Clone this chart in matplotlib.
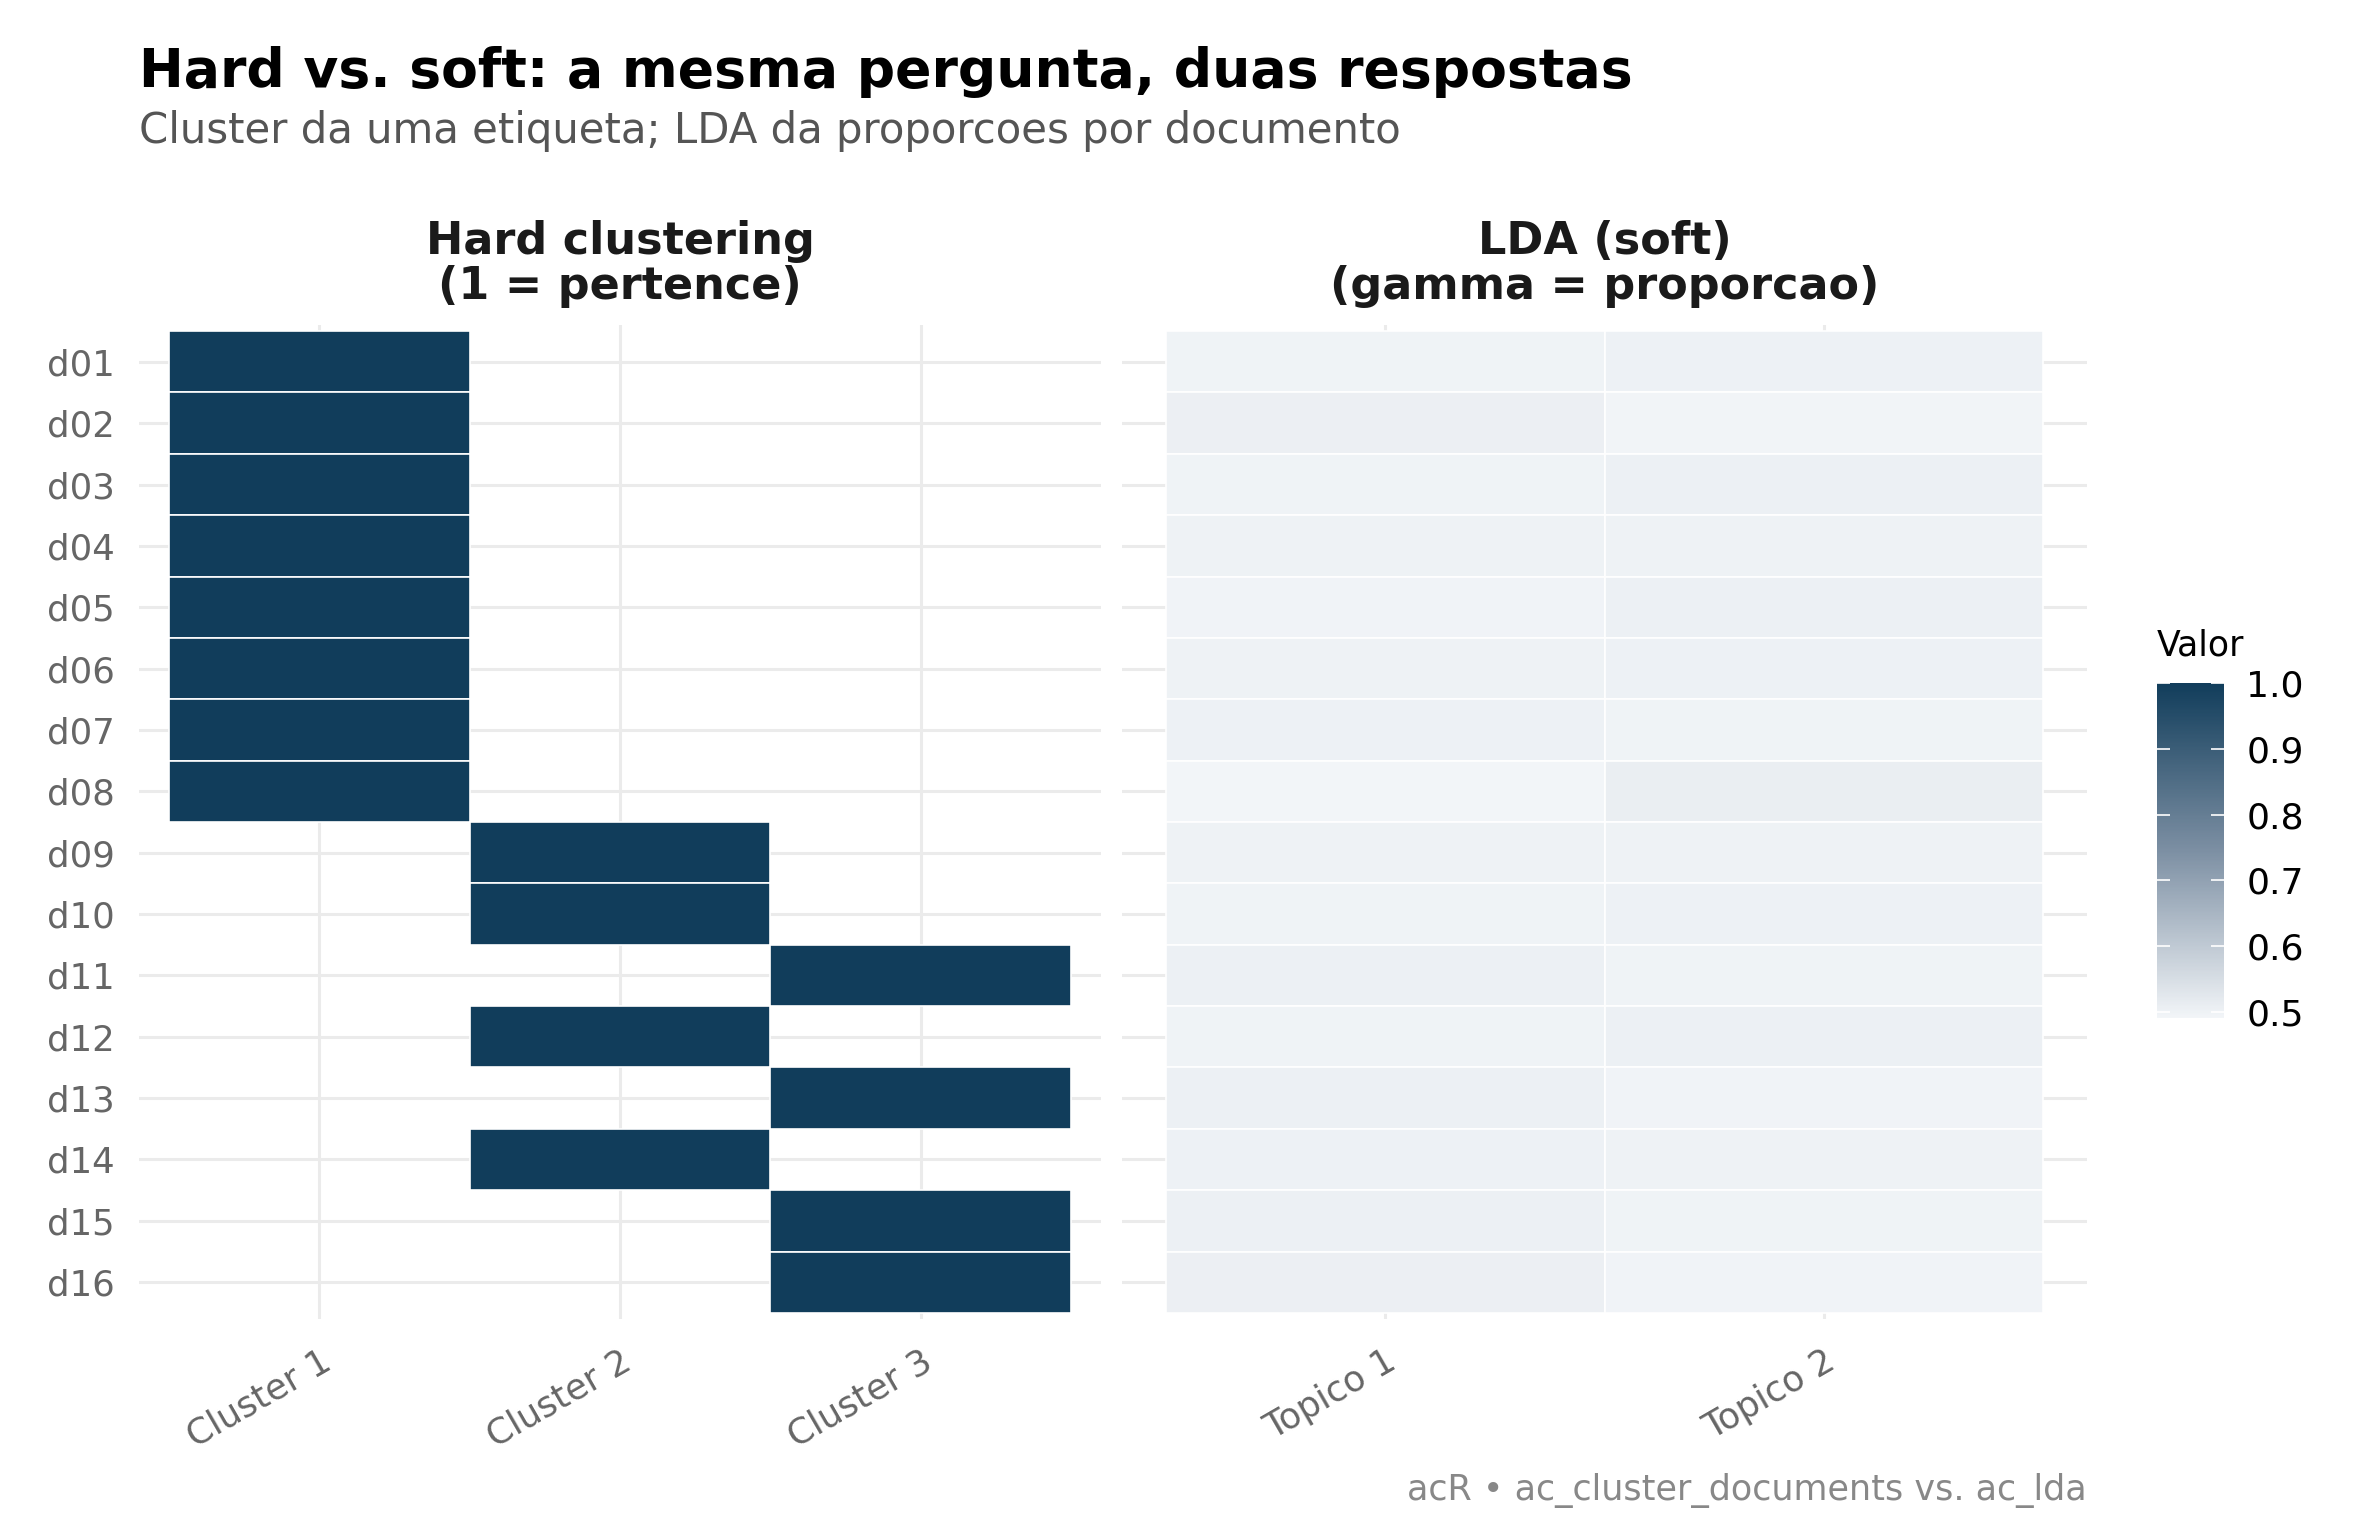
import matplotlib
matplotlib.use("Agg")
import matplotlib.pyplot as plt
import numpy as np
from matplotlib.colors import LinearSegmentedColormap, Normalize
from matplotlib.cm import ScalarMappable

plt.rcParams['font.family'] = ['DejaVu Sans']

# data
docs = ['d01', 'd02', 'd03', 'd04', 'd05', 'd06', 'd07', 'd08',
        'd09', 'd10', 'd11', 'd12', 'd13', 'd14', 'd15', 'd16']
clusters = ['Cluster 1', 'Cluster 2', 'Cluster 3']
hard_cluster = [1, 1, 1, 1, 1, 1, 1, 1, 2, 2, 3, 2, 3, 2, 3, 3]
topics = ['Topico 1', 'Topico 2']
gamma_t1 = [0.498, 0.506, 0.497, 0.500, 0.496, 0.499, 0.502, 0.491,
            0.500, 0.498, 0.503, 0.497, 0.504, 0.501, 0.503, 0.505]
gamma_t2 = [0.502, 0.494, 0.503, 0.500, 0.504, 0.501, 0.498, 0.509,
            0.500, 0.502, 0.497, 0.503, 0.496, 0.499, 0.497, 0.495]

# escala de cor
cmap = LinearSegmentedColormap.from_list('valor', ['#f2f5f8', '#7c8fa3', '#113d5b'])
vmin = min(min(gamma_t1), min(gamma_t2))
vmax = 1.0
norm = Normalize(vmin=vmin, vmax=vmax)

W, H = 2380, 1540
fig = plt.figure(figsize=(W / 200, H / 200), dpi=200)

top_px, bot_px = 325, 1319
ax1 = fig.add_axes([139 / W, 1 - bot_px / H, 962 / W, (bot_px - top_px) / H])
ax2 = fig.add_axes([1122 / W, 1 - bot_px / H, 965 / W, (bot_px - top_px) / H])

rows = np.arange(len(docs))
grid_kw = dict(color='#ebebeb', linewidth=1.1)

def style(ax, ncat, labels):
    ax.set_xlim(-0.6, ncat - 1 + 0.6)
    ax.set_ylim(len(docs) - 1 + 0.6, -0.6)
    ax.set_axisbelow(True)
    ax.grid(True, **grid_kw)
    for s in ax.spines.values():
        s.set_visible(False)
    ax.set_xticks(range(ncat))
    ax.set_xticklabels(labels, rotation=30, ha='right', va='top',
                       rotation_mode='anchor')
    ax.set_yticks(rows)
    ax.tick_params(length=0, labelsize=12.8, labelcolor='#666666')
    ax.tick_params(axis='y', pad=8.6)
    ax.tick_params(axis='x', pad=9)

# hard clustering
style(ax1, len(clusters), clusters)
ax1.set_yticklabels(docs)
hc = np.array(hard_cluster) - 1
ax1.bar(hc, 1, bottom=rows - 0.5, width=1, align='center',
        color=cmap(norm(1.0)), edgecolor='white', linewidth=0.6)

# LDA
style(ax2, len(topics), topics)
ax2.set_yticklabels([])
for i, g in enumerate([gamma_t1, gamma_t2]):
    ax2.bar(np.full(len(docs), i), 1, bottom=rows - 0.5, width=1,
            color=cmap(norm(np.array(g))), edgecolor='white', linewidth=0.6)

strip_kw = dict(ha='center', va='center', fontsize=16, fontweight='bold',
                color='#1a1a1a', linespacing=1.05)
ax1.text(0.5, 1.0613, 'Hard clustering\n(1 = pertence)', transform=ax1.transAxes, **strip_kw)
ax2.text(0.5, 1.0613, 'LDA (soft)\n(gamma = proporcao)', transform=ax2.transAxes, **strip_kw)

# legenda
cax = fig.add_axes([2157 / W, 1 - 1018 / H, 67 / W, 335 / H])
cb = fig.colorbar(ScalarMappable(norm=norm, cmap=cmap), cax=cax)
cb.outline.set_visible(False)
cb.set_ticks([0.5, 0.6, 0.7, 0.8, 0.9, 1.0])
cb.set_ticklabels(['0.5', '0.6', '0.7', '0.8', '0.9', '1.0'])
cax.tick_params(left=True, right=True, labelleft=False, labelright=True,
                direction='in', color='white', length=4.8, width=0.6,
                labelsize=13, pad=8)
fig.text(2157 / W, 1 - 655 / H, 'Valor', fontsize=12.5, va='baseline', ha='left')

# titulos
fig.text(139 / W, 1 - 87 / H, 'Hard vs. soft: a mesma pergunta, duas respostas',
         fontsize=19.3, fontweight='bold', va='baseline')
fig.text(139 / W, 1 - 143 / H, 'Cluster da uma etiqueta; LDA da proporcoes por documento',
         fontsize=15.1, color='#555555', va='baseline')
fig.text(2087 / W, 1 - 1500 / H, 'acR \u2022 ac_cluster_documents vs. ac_lda',
         fontsize=12.6, color='#888888', ha='right', va='baseline')

fig.savefig('out.png', dpi=200, facecolor='white')
